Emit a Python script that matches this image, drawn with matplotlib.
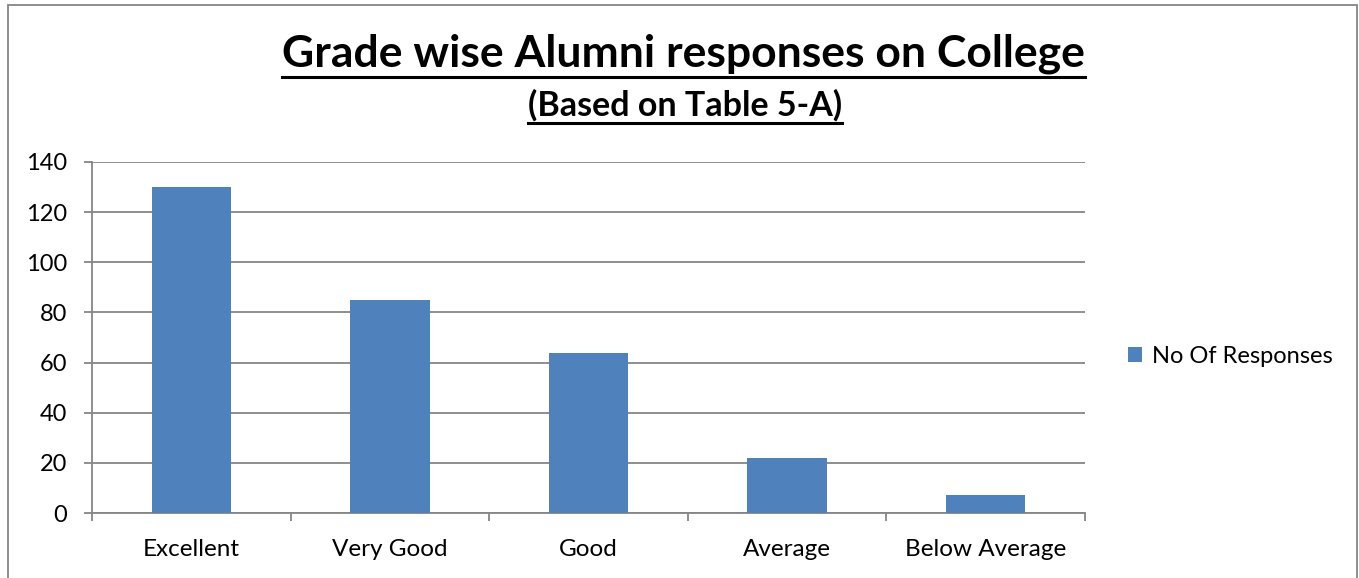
import matplotlib.pyplot as plt
from matplotlib.patches import Rectangle
from matplotlib.lines import Line2D

categories = ['Excellent', 'Very Good', 'Good', 'Average', 'Below Average']
responses = [130, 85, 64, 22, 7]
series_name = 'No Of Responses'
title = 'Grade wise Alumni responses on College'
subtitle = '(Based on Table 5-A)'

W, H = 1359, 578
plt.rcParams['font.family'] = ['Lato', 'DejaVu Sans']

fig = plt.figure(figsize=(W / 100, H / 100), dpi=100)
ax = fig.add_axes([92 / W, 1 - 513 / H, (1085 - 92) / W, (513 - 162) / H])

grey = '#868686'
x = range(len(categories))
ax.bar(x, responses, width=0.4, color='#4F81BD', zorder=3, label=series_name)

ax.set_xlim(-0.5, len(categories) - 0.5)
ax.set_ylim(0, 140)
ax.set_yticks(range(0, 141, 20))
ax.yaxis.grid(True, color=grey, linewidth=1.3, zorder=0)
ax.set_xticks([i - 0.5 for i in range(len(categories) + 1)])
ax.set_xticklabels([])
ax.set_xticks(list(x), minor=True)
ax.set_xticklabels(categories, minor=True)
ax.tick_params(axis='x', which='minor', length=0, labelsize=17.5, pad=19)
ax.tick_params(axis='x', which='major', length=6, color=grey, width=1.3)
ax.tick_params(axis='y', length=6, color=grey, width=1.3, labelsize=17, pad=12)
for s in ['top', 'right']:
    ax.spines[s].set_visible(False)
for s in ['left', 'bottom']:
    ax.spines[s].set_color(grey)
    ax.spines[s].set_linewidth(1.3)

leg = ax.legend(loc='center left', bbox_to_anchor=(1.034, 0.445), frameon=False,
                fontsize=17, handlelength=0.6, handleheight=0.6, handletextpad=0.4,
                borderaxespad=0)

# chart border
fig.patches.append(Rectangle((8 / W, -0.05), (1357 - 8) / W, 1 - 5 / H + 0.05,
                             transform=fig.transFigure, fill=False,
                             edgecolor=grey, linewidth=1.3))

t1 = fig.text(0.503, 1 - 67 / H, title, ha='center', va='baseline',
              fontsize=32, fontweight='bold')
t2 = fig.text(0.504, 1 - 116 / H, subtitle, ha='center', va='baseline',
              fontsize=24.5, fontweight='bold')

fig.canvas.draw()
r = fig.canvas.get_renderer()
for t, off in [(t1, 10), (t2, 7)]:
    bb = t.get_window_extent(r)
    y0 = t.get_position()[1] * H - off
    fig.add_artist(Line2D([bb.x0 / W, bb.x1 / W], [y0 / H, y0 / H],
                          transform=fig.transFigure, color='black', linewidth=2.2))

fig.savefig('out.png', dpi=100)
